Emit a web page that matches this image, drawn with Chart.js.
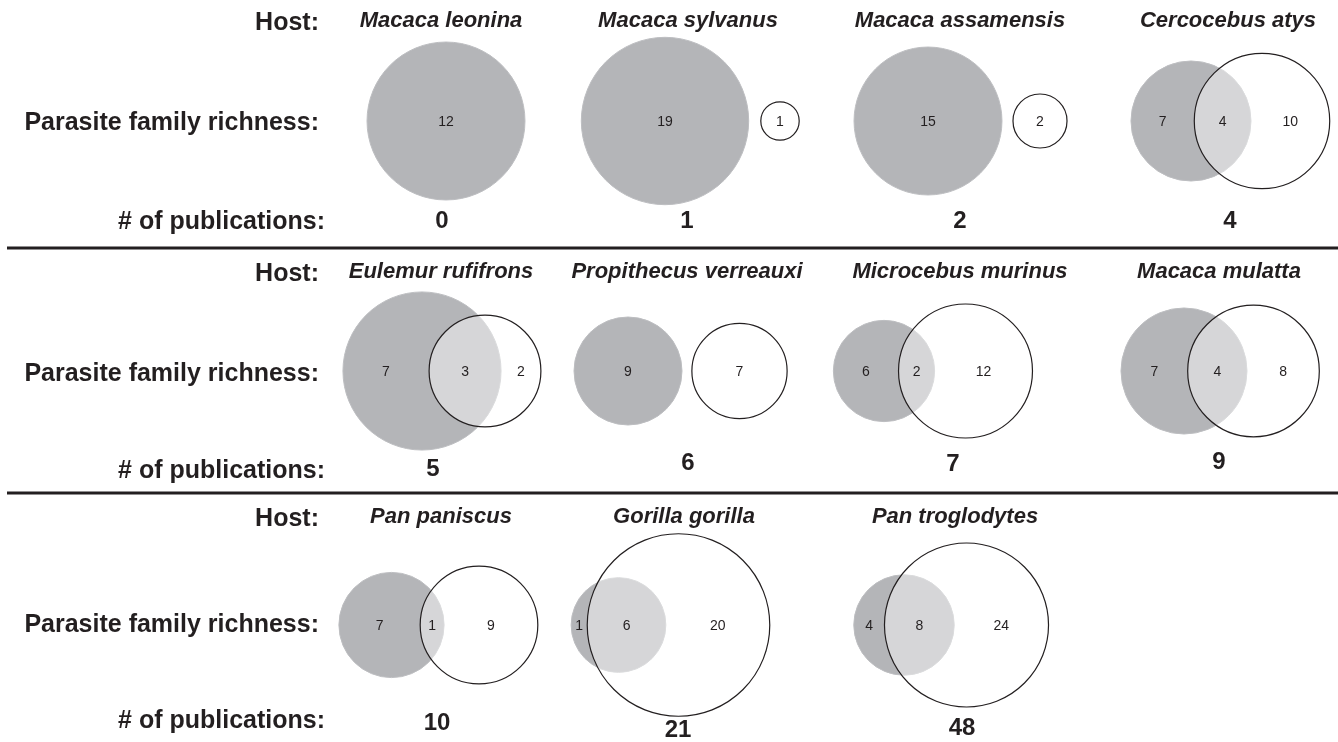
<!DOCTYPE html>
<html lang="en">
<head>
  <meta charset="UTF-8">
  <title>Parasite family richness by host</title>
  <script src="https://cdn.jsdelivr.net/npm/chart.js"></script>
  <style>
    body {
      margin: 0;
      background: #fff;
      font-family: "Liberation Sans", Arial, sans-serif;
      color: #231f20;
    }
    #wrap {
      position: relative;
      width: 1338px;
      height: 742px;
    }
    #texts div {
      position: absolute;
      white-space: nowrap;
      line-height: 1;
    }
    .lab { font-weight: bold; font-size: 25px; transform: translate(-100%, -50%); }
    .host { font-weight: bold; font-style: italic; font-size: 22px; transform: translate(-50%, -50%); }
    .pub { font-weight: bold; font-size: 24px; transform: translate(-50%, -50%); }
    .cnt { font-size: 14px; transform: translate(-50%, -50%); }
  </style>
</head>
<body>
<div id="wrap">
  <canvas id="chart" width="1338" height="742"></canvas>
  <div id="texts"></div>
</div>

<script>
// data
const hosts = ['Macaca leonina', 'Macaca sylvanus', 'Macaca assamensis', 'Cercocebus atys',
  'Eulemur rufifrons', 'Propithecus verreauxi', 'Microcebus murinus', 'Macaca mulatta',
  'Pan paniscus', 'Gorilla gorilla', 'Pan troglodytes'];
const publications = [0, 1, 2, 4, 5, 6, 7, 9, 10, 21, 48];
const grayOnly  = [12, 19, 15, 7, 7, 9, 6, 7, 7, 1, 4];
const shared    = [0, 0, 0, 4, 3, 0, 2, 4, 1, 6, 8];
const whiteOnly = [0, 1, 2, 10, 2, 7, 12, 8, 9, 20, 24];

// layout (chart units = pixels)
const panelRow = [0, 0, 0, 0, 1, 1, 1, 1, 2, 2, 2];
const rowCircleY = [121, 371, 625];
const rowHostY = [21, 272, 517];
const rowRichY = [121, 372, 623];
const rowPubY = [220, 469, 719];
const ruleY = [248, 493];
const grayX  = [446, 665, 928, 1191, 422, 628, 884, 1184, 391.5, 618.5, 904];
const whiteX = [null, 780, 1040, 1262, 485, 739.5, 965.5, 1253.5, 479, 678.5, 966.5];
const unitR  = [22.8, 19.2, 19.1, 18.1, 25, 18, 17.9, 19, 18.6, 17.9, 14.5];
const titleX = [441, 688, 960, 1228, 441, 687, 960, 1219, 441, 684, 955];
const pubX   = [442, 687, 960, 1230, 433, 688, 953, 1219, 437, 678, 962];
const pubY   = [220, 220, 220, 220, 468, 462, 463, 461, 722, 729, 727];

// circle area follows the number of families in it
const grayR = hosts.map((h, i) => unitR[i] * Math.sqrt(grayOnly[i] + shared[i]));
const whiteR = hosts.map((h, i) => unitR[i] * Math.sqrt(whiteOnly[i] + shared[i]));

const grayPts = hosts.map((h, i) => ({ x: grayX[i], y: rowCircleY[panelRow[i]], r: grayR[i] }));
const whitePts = hosts.map((h, i) => ({ x: whiteX[i], y: rowCircleY[panelRow[i]], r: whiteR[i] }))
  .filter(p => p.x !== null && p.r > 0);

const rules = ruleY.map(y => ({
  type: 'line',
  data: [{ x: 7, y }, { x: 1338, y }],
  borderColor: '#231f20',
  borderWidth: 3,
  pointRadius: 0,
  order: 0
}));

const chart = new Chart(document.getElementById('chart'), {
  type: 'bubble',
  data: {
    datasets: [
      {
        label: 'white',
        data: whitePts,
        backgroundColor: 'rgba(255,255,255,0.45)',
        borderColor: '#231f20',
        borderWidth: 1.2,
        hoverRadius: 0,
        clip: false,
        order: 1
      },
      {
        label: 'gray',
        data: grayPts,
        backgroundColor: '#b4b5b8',
        borderColor: '#bdbec1',
        borderWidth: 1,
        hoverRadius: 0,
        clip: false,
        order: 2
      },
      ...rules
    ]
  },
  options: {
    responsive: false,
    animation: false,
    events: [],
    layout: { padding: 0, autoPadding: false },
    plugins: { legend: { display: false }, tooltip: { enabled: false } },
    scales: {
      x: { type: 'linear', min: 0, max: 1338, display: false },
      y: { type: 'linear', min: 0, max: 742, reverse: true, display: false }
    }
  }
});

// text layer, placed through the chart scales
const texts = document.getElementById('texts');
function put(cls, text, x, y) {
  const d = document.createElement('div');
  d.className = cls;
  d.textContent = text;
  d.style.left = chart.scales.x.getPixelForValue(x) + 'px';
  d.style.top = chart.scales.y.getPixelForValue(y) + 'px';
  texts.append(d);
}

[0, 1, 2].forEach(r => {
  put('lab', 'Host:', 319, rowHostY[r]);
  put('lab', 'Parasite family richness:', 319, rowRichY[r]);
  put('lab', '# of publications:', 325, rowPubY[r]);
});

hosts.forEach((h, i) => {
  const r = panelRow[i];
  const cy = rowCircleY[r];
  put('host', h, titleX[i], rowHostY[r] - 1);
  put('pub', String(publications[i]), pubX[i], pubY[i]);

  const gx = grayX[i], wx = whiteX[i], rg = grayR[i], rw = whiteR[i];
  if (shared[i] > 0) {
    put('cnt', grayOnly[i], ((gx - rg) + (wx - rw)) / 2, cy);
    put('cnt', shared[i], ((wx - rw) + (gx + rg)) / 2, cy);
    put('cnt', whiteOnly[i], ((gx + rg) + (wx + rw)) / 2, cy);
  } else {
    put('cnt', grayOnly[i], gx, cy);
    if (whiteOnly[i] > 0) put('cnt', whiteOnly[i], wx, cy);
  }
});
</script>
</body>
</html>
